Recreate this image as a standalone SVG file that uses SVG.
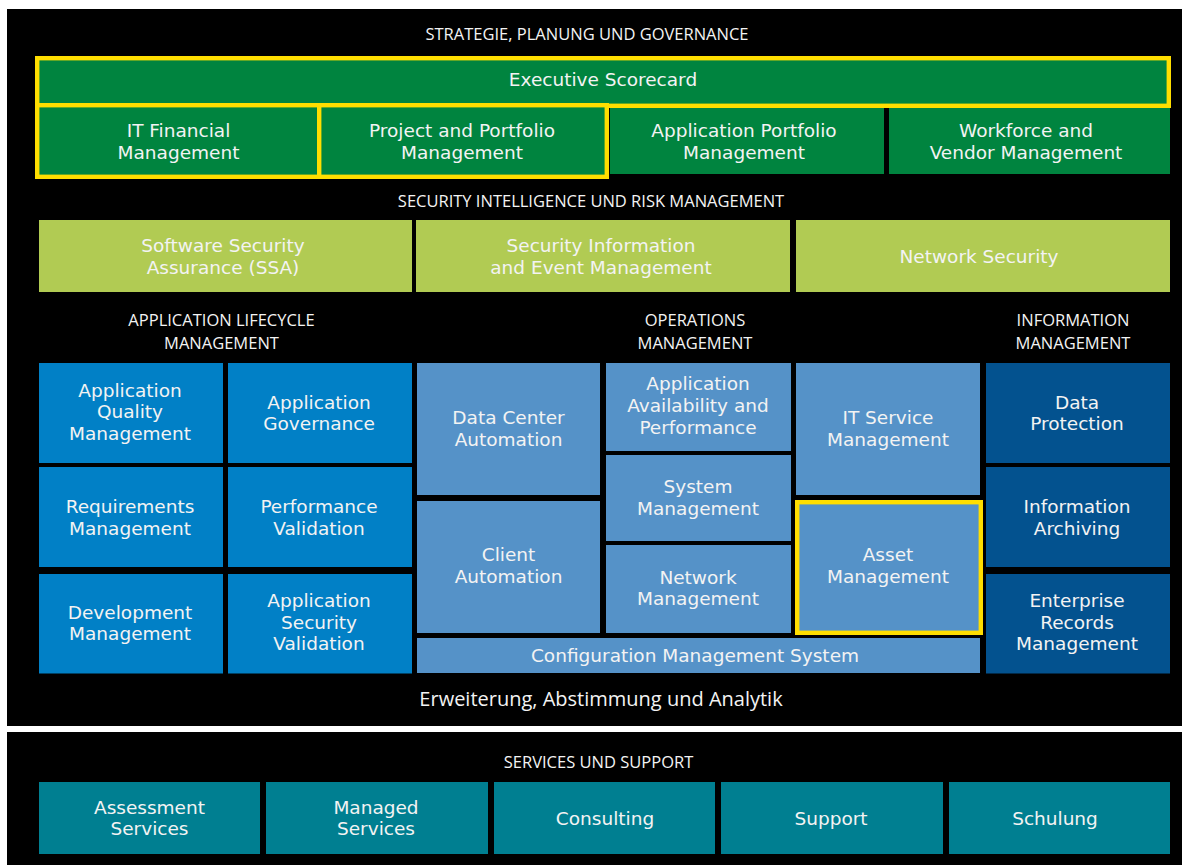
<svg xmlns="http://www.w3.org/2000/svg" width="1182" height="865" viewBox="0 0 1182 865">
<style>
.panel{fill:#000}
.g{fill:#00843F}
.y{fill:none;stroke:#FFDE00;stroke-width:4.4}
.lg{fill:#B1CB53}
.b{fill:#0180C6}
.lb{fill:#5592C8}
.db{fill:#03528F}
.t{fill:#007F91}
text{fill:#F3F3F3;text-anchor:middle}
.n{font-family:"DejaVu Sans","Open Sans",sans-serif;font-size:18.5px}
.h{font-family:"Open Sans","Noto Sans",sans-serif;font-size:16.5px}
.e{font-family:"Open Sans","Noto Sans",sans-serif;font-size:20px}
</style>
<rect width="1182" height="865" fill="#fff"/>
<rect class="panel" x="7" y="9" width="1175" height="717"/>
<rect class="panel" x="7" y="732" width="1175" height="133"/>

<g id="headings">
<text class="h" x="587" y="40">STRATEGIE, PLANUNG UND GOVERNANCE</text>
<text class="h" x="591" y="206.5">SECURITY INTELLIGENCE UND RISK MANAGEMENT</text>
<text class="h" x="221.5" y="326">APPLICATION LIFECYCLE<tspan x="221.5" y="349">MANAGEMENT</tspan></text>
<text class="h" x="695" y="326">OPERATIONS<tspan x="695" y="349">MANAGEMENT</tspan></text>
<text class="h" x="1073" y="326">INFORMATION<tspan x="1073" y="349">MANAGEMENT</tspan></text>
<text class="e" x="601" y="706">Erweiterung, Abstimmung und Analytik</text>
<text class="h" x="598.5" y="768">SERVICES UND SUPPORT</text>
</g>

<g id="exec"><rect class="g" x="35" y="56" width="1136" height="52"/><rect class="y" x="37.2" y="58.2" width="1131.6" height="47.6"/><text class="n" x="603" y="86">Executive Scorecard</text></g>
<g id="itfin"><rect class="g" x="35" y="103" width="287" height="76"/><rect class="y" x="37.2" y="105.2" width="282.6" height="71.6"/><text class="n" x="178.5" y="137">IT Financial<tspan x="178.5" y="159">Management</tspan></text></g>
<g id="ppm"><rect class="g" x="317" y="103" width="292" height="76"/><rect class="y" x="319.2" y="105.2" width="287.6" height="71.6"/><text class="n" x="462" y="137">Project and Portfolio<tspan x="462" y="159">Management</tspan></text></g>
<g id="apm"><rect class="g" x="610" y="108" width="274" height="66"/><text class="n" x="744" y="137">Application Portfolio<tspan x="744" y="159">Management</tspan></text></g>
<g id="wvm"><rect class="g" x="889" y="108" width="281" height="66"/><text class="n" x="1026" y="137">Workforce and<tspan x="1026" y="159">Vendor Management</tspan></text></g>

<g id="ssa"><rect class="lg" x="39" y="220" width="373" height="72"/><text class="n" x="223" y="252">Software Security<tspan x="223" y="274">Assurance (SSA)</tspan></text></g>
<g id="siem"><rect class="lg" x="416" y="220" width="374" height="72"/><text class="n" x="601" y="252">Security Information<tspan x="601" y="274">and Event Management</tspan></text></g>
<g id="netsec"><rect class="lg" x="796" y="220" width="374" height="72"/><text class="n" x="979" y="263">Network Security</text></g>

<g id="aqm"><rect class="b" x="39" y="363" width="184" height="100"/><text class="n" x="130" y="396.5">Application<tspan x="130" y="418.2">Quality</tspan><tspan x="130" y="440">Management</tspan></text></g>
<g id="agov"><rect class="b" x="228" y="363" width="184" height="100"/><text class="n" x="319" y="408.5">Application<tspan x="319" y="430">Governance</tspan></text></g>
<g id="req"><rect class="b" x="39" y="467" width="184" height="100"/><text class="n" x="130" y="513">Requirements<tspan x="130" y="535">Management</tspan></text></g>
<g id="perf"><rect class="b" x="228" y="467" width="184" height="100"/><text class="n" x="319" y="513">Performance<tspan x="319" y="535">Validation</tspan></text></g>
<g id="dev"><rect class="b" x="39" y="574" width="184" height="99.5"/><text class="n" x="130" y="618.5">Development<tspan x="130" y="640">Management</tspan></text></g>
<g id="asv"><rect class="b" x="228" y="574" width="184" height="99.5"/><text class="n" x="319" y="607">Application<tspan x="319" y="628.5">Security</tspan><tspan x="319" y="650">Validation</tspan></text></g>

<g id="dca"><rect class="lb" x="417" y="363" width="183" height="132"/><text class="n" x="508.5" y="424">Data Center<tspan x="508.5" y="446">Automation</tspan></text></g>
<g id="ca"><rect class="lb" x="417" y="501" width="183" height="132"/><text class="n" x="508.5" y="561">Client<tspan x="508.5" y="582.5">Automation</tspan></text></g>
<g id="aap"><rect class="lb" x="606" y="363" width="185" height="88"/><text class="n" x="698" y="390">Application<tspan x="698" y="412">Availability and</tspan><tspan x="698" y="434">Performance</tspan></text></g>
<g id="sys"><rect class="lb" x="606" y="455" width="185" height="86"/><text class="n" x="698" y="493">System<tspan x="698" y="515">Management</tspan></text></g>
<g id="netm"><rect class="lb" x="606" y="545" width="185" height="88"/><text class="n" x="698" y="583.5">Network<tspan x="698" y="605">Management</tspan></text></g>
<g id="itsm"><rect class="lb" x="796" y="363" width="184" height="132"/><text class="n" x="888" y="424">IT Service<tspan x="888" y="446">Management</tspan></text></g>
<g id="asset"><rect class="lb" x="797.2" y="502.2" width="183.6" height="130.6"/><rect class="y" x="797.2" y="502.2" width="183.6" height="130.6"/><text class="n" x="888" y="561">Asset<tspan x="888" y="582.5">Management</tspan></text></g>
<g id="cms"><rect class="lb" x="417" y="638" width="563" height="35"/><text class="n" x="695" y="661.5">Configuration Management System</text></g>

<g id="dp"><rect class="db" x="986" y="363" width="184" height="100"/><text class="n" x="1077" y="408.5">Data<tspan x="1077" y="430">Protection</tspan></text></g>
<g id="ia"><rect class="db" x="986" y="467" width="184" height="100"/><text class="n" x="1077" y="513">Information<tspan x="1077" y="535">Archiving</tspan></text></g>
<g id="erm"><rect class="db" x="986" y="574" width="184" height="99.5"/><text class="n" x="1077" y="607">Enterprise<tspan x="1077" y="628.5">Records</tspan><tspan x="1077" y="650">Management</tspan></text></g>

<g id="as"><rect class="t" x="39" y="782" width="221" height="72"/><text class="n" x="149.5" y="813.5">Assessment<tspan x="149.5" y="835">Services</tspan></text></g>
<g id="ms"><rect class="t" x="266" y="782" width="222" height="72"/><text class="n" x="376" y="813.5">Managed<tspan x="376" y="835">Services</tspan></text></g>
<g id="cons"><rect class="t" x="494" y="782" width="221" height="72"/><text class="n" x="605" y="825">Consulting</text></g>
<g id="sup"><rect class="t" x="721" y="782" width="222" height="72"/><text class="n" x="831" y="825">Support</text></g>
<g id="sch"><rect class="t" x="949" y="782" width="221" height="72"/><text class="n" x="1055" y="825">Schulung</text></g>

<g id="connectors"></g>
</svg>
